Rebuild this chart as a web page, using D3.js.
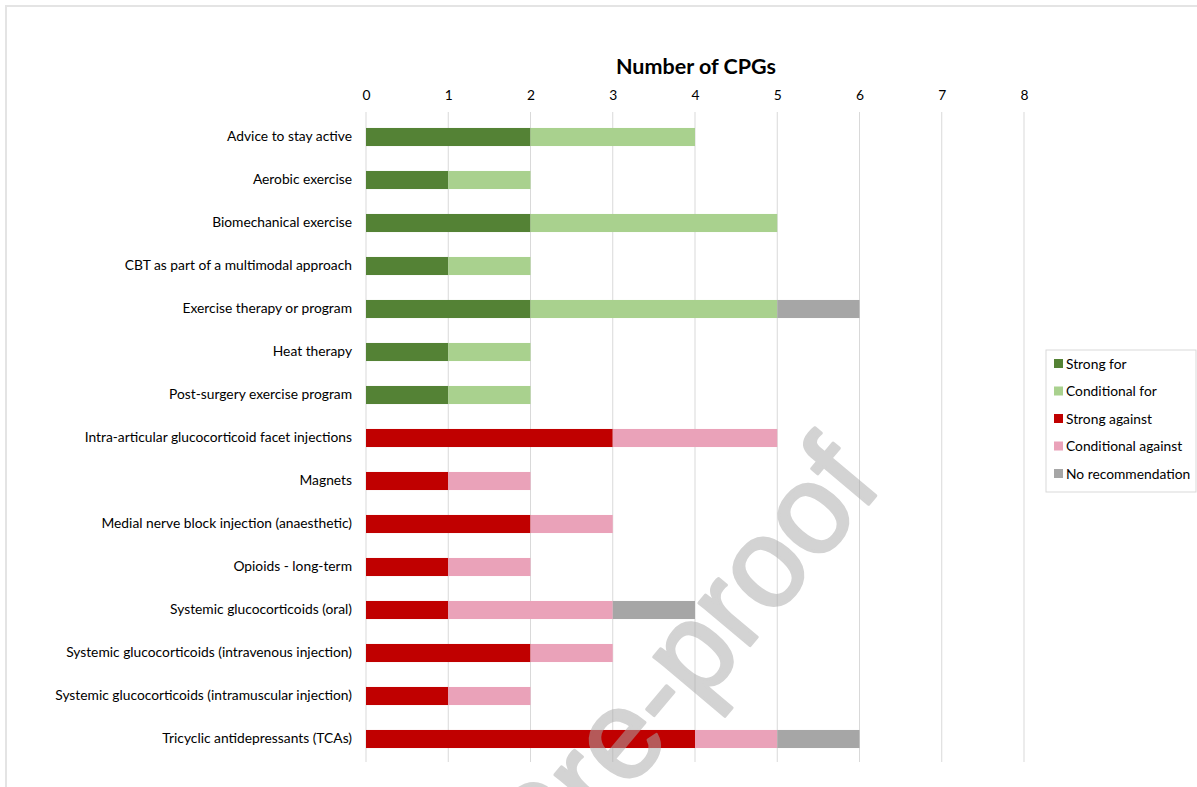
<!DOCTYPE html>
<html>
<head>
<meta charset="utf-8">
<script src="https://cdn.jsdelivr.net/npm/d3@7"></script>
<style>
  body { margin: 0; background: #fff; }
  svg { display: block; font-family: Lato, 'Open Sans', sans-serif; }
</style>
</head>
<body>
<div id="chart"></div>
<script>
/* Data */
const categories = [
  'Advice to stay active',
  'Aerobic exercise',
  'Biomechanical exercise',
  'CBT as part of a multimodal approach',
  'Exercise therapy or program',
  'Heat therapy',
  'Post-surgery exercise program',
  'Intra-articular glucocorticoid facet injections',
  'Magnets',
  'Medial nerve block injection (anaesthetic)',
  'Opioids - long-term',
  'Systemic glucocorticoids (oral)',
  'Systemic glucocorticoids (intravenous injection)',
  'Systemic glucocorticoids (intramuscular injection)',
  'Tricyclic antidepressants (TCAs)'
];
const seriesNames = ['Strong for', 'Conditional for', 'Strong against', 'Conditional against', 'No recommendation'];
const strongFor =          [2, 1, 2, 1, 2, 1, 1, 0, 0, 0, 0, 0, 0, 0, 0];
const conditionalFor =     [2, 1, 3, 1, 3, 1, 1, 0, 0, 0, 0, 0, 0, 0, 0];
const strongAgainst =      [0, 0, 0, 0, 0, 0, 0, 3, 1, 2, 1, 1, 2, 1, 4];
const conditionalAgainst = [0, 0, 0, 0, 0, 0, 0, 2, 1, 1, 1, 2, 1, 1, 1];
const noRecommendation =   [0, 0, 0, 0, 1, 0, 0, 0, 0, 0, 0, 1, 0, 0, 1];
const xTicks = [0, 1, 2, 3, 4, 5, 6, 7, 8];
const colors = ['#548235', '#a9d18e', '#c00000', '#eaa2b9', '#a6a6a6'];

const width = 1197, height = 787;
const labelSize = 13.8;

const rows = categories.map((c, i) => ({
  category: c,
  'Strong for': strongFor[i],
  'Conditional for': conditionalFor[i],
  'Strong against': strongAgainst[i],
  'Conditional against': conditionalAgainst[i],
  'No recommendation': noRecommendation[i]
}));

const svg = d3.select('#chart').append('svg')
  .attr('width', width)
  .attr('height', height);

// outer frame
svg.append('rect')
  .attr('x', 6).attr('y', 6)
  .attr('width', width + 20).attr('height', height + 20)
  .attr('fill', 'none')
  .attr('stroke', '#e4e4e4')
  .attr('stroke-width', 2);

const x = d3.scaleLinear().domain([0, 8]).range([366, 1024]);
const y = d3.scaleBand().domain(categories).range([115.5, 760.5])
  .paddingInner(0.58).paddingOuter(0.29);

// grid lines
svg.append('g')
  .selectAll('line')
  .data(xTicks)
  .join('line')
  .attr('x1', d => x(d)).attr('x2', d => x(d))
  .attr('y1', 112).attr('y2', 762)
  .attr('stroke', '#d9d9d9')
  .attr('stroke-width', 1);

// top axis labels
const xAxis = svg.append('g')
  .attr('transform', 'translate(0,100)')
  .call(d3.axisTop(x).tickValues(xTicks).tickSize(0).tickPadding(0).tickFormat(d3.format('d')));
xAxis.select('.domain').remove();
xAxis.selectAll('text')
  .attr('font-family', 'Lato, sans-serif')
  .attr('font-size', labelSize)
  .attr('fill', '#000');

svg.append('text')
  .attr('x', 696).attr('y', 74)
  .attr('text-anchor', 'middle')
  .attr('font-size', 21.5)
  .attr('font-weight', 'bold')
  .attr('fill', '#000')
  .text('Number of CPGs');

// category labels
const yAxis = svg.append('g')
  .attr('transform', 'translate(352,0)')
  .call(d3.axisLeft(y).tickSize(0).tickPadding(0));
yAxis.select('.domain').remove();
yAxis.selectAll('text')
  .attr('font-family', 'Lato, sans-serif')
  .attr('font-size', labelSize)
  .attr('fill', '#000');

// stacked bars
const stack = d3.stack().keys(seriesNames)(rows);
svg.append('g')
  .selectAll('g')
  .data(stack)
  .join('g')
  .attr('fill', (d, i) => colors[i])
  .selectAll('rect')
  .data(d => d.filter(p => p[1] > p[0]))
  .join('rect')
  .attr('x', d => x(d[0]))
  .attr('width', d => x(d[1]) - x(d[0]))
  .attr('y', d => y(d.data.category))
  .attr('height', y.bandwidth());

// legend
const legend = svg.append('g').attr('transform', 'translate(1046,350)');
legend.append('rect')
  .attr('width', 150).attr('height', 142)
  .attr('fill', '#fff')
  .attr('stroke', '#d9d9d9');
seriesNames.forEach((name, i) => {
  const item = legend.append('g').attr('transform', `translate(8,${14 + i * 27.5})`);
  item.append('rect')
    .attr('x', 0).attr('y', -5)
    .attr('width', 9).attr('height', 9)
    .attr('fill', colors[i]);
  item.append('text')
    .attr('x', 12).attr('y', 4.5)
    .attr('font-size', labelSize)
    .attr('fill', '#000')
    .text(name);
});

// watermark
svg.append('g')
  .attr('opacity', 0.52)
  .append('text')
  .attr('transform', 'translate(884,486) rotate(-50)')
  .attr('text-anchor', 'end')
  .attr('font-family', 'Liberation Sans, Arial, sans-serif')
  .attr('font-size', 126)
  .attr('fill', '#ababab')
  .attr('stroke', '#ababab')
  .attr('stroke-width', 3)
  .attr('stroke-linejoin', 'round')
  .text('Journal Pre-proof');
</script>
</body>
</html>
